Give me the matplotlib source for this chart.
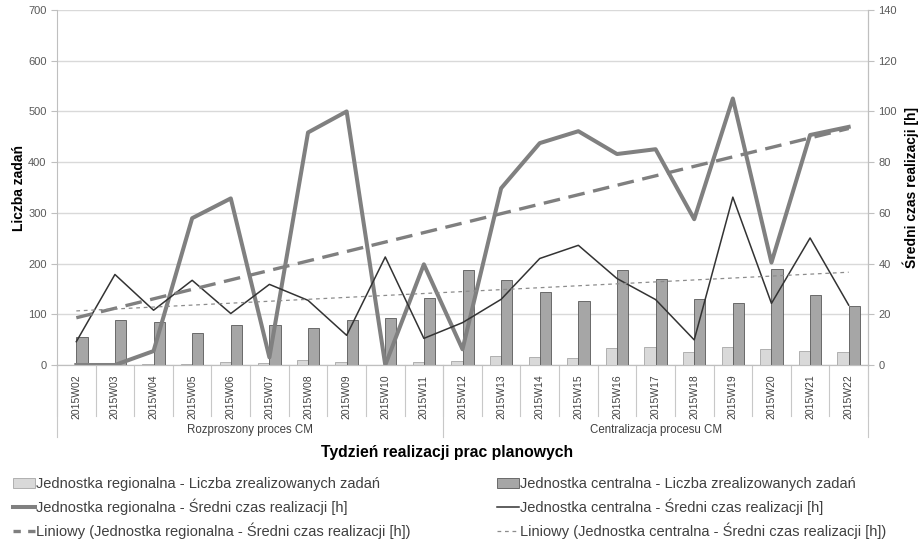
import numpy as np
import matplotlib
matplotlib.use("Agg")
import matplotlib.pyplot as plt
from matplotlib.patches import Patch
from matplotlib.lines import Line2D

plt.rcParams['font.family'] = ['Liberation Sans', 'DejaVu Sans']

# dane
weeks = ["2015W02", "2015W03", "2015W04", "2015W05", "2015W06", "2015W07", "2015W08",
         "2015W09", "2015W10", "2015W11", "2015W12", "2015W13", "2015W14", "2015W15",
         "2015W16", "2015W17", "2015W18", "2015W19", "2015W20", "2015W21", "2015W22"]
groups = ["Rozproszony proces CM", "Centralizacja procesu CM"]
group_sizes = [10, 11]

reg_tasks = [0, 0, 1, 2, 6, 4, 9, 5, 0, 5, 7, 17, 16, 13, 33, 35, 26, 35, 32, 28, 26]
cen_tasks = [55, 88, 84, 63, 78, 78, 73, 88, 93, 133, 187, 168, 143, 126, 187, 170, 130,
             122, 189, 139, 117]
reg_time = [0, 0, 5.5, 57.9, 65.7, 3.0, 91.7, 100, 0, 39.7, 6.2, 69.7, 87.5, 92.2, 83.2,
            85.1, 57.5, 105.1, 40.4, 90.7, 93.9]
cen_time = [9.2, 35.7, 21.6, 33.4, 20.3, 31.8, 25.5, 11.7, 42.6, 10.5, 16.7, 25.9, 42.0,
            47.2, 34.1, 25.8, 9.9, 66.2, 24.3, 50.1, 23.6]

lab_reg_bar = "Jednostka regionalna - Liczba zrealizowanych zadań"
lab_cen_bar = "Jednostka centralna - Liczba zrealizowanych zadań"
lab_reg_line = "Jednostka regionalna - Średni czas realizacji [h]"
lab_cen_line = "Jednostka centralna - Średni czas realizacji [h]"
lab_reg_trend = "Liniowy (Jednostka regionalna - Średni czas realizacji [h])"
lab_cen_trend = "Liniowy (Jednostka centralna - Średni czas realizacji [h])"

x = np.arange(len(weeks))
w = 0.29
txt = '#404040'
axc = '#bfbfbf'

fig = plt.figure(figsize=(9.21, 5.41), dpi=100)
ax = fig.add_axes([57 / 921, 1 - 365 / 541, (868 - 57) / 921, 355 / 541])
ax2 = ax.twinx()

ax.bar(x - w / 2, reg_tasks, w, color='#d9d9d9', edgecolor='#a6a6a6', linewidth=0.6, zorder=3)
ax.bar(x + w / 2, cen_tasks, w, color='#a6a6a6', edgecolor='#595959', linewidth=0.6, zorder=3)

ax2.plot(x, reg_time, color='#808080', lw=2.9)
ax2.plot(x, cen_time, color='#333333', lw=1.1)

# linie trendu (liniowe)
p1 = np.polyfit(x, reg_time, 1)
p2 = np.polyfit(x, cen_time, 1)
ax2.plot(x, np.polyval(p1, x), color='#7f7f7f', lw=2.4, dashes=(5, 2.6))
ax2.plot(x, np.polyval(p2, x), color='#8c8c8c', lw=0.9, dashes=(3, 3))

ax.set_ylim(0, 700)
ax.set_yticks(range(0, 701, 100))
ax2.set_ylim(0, 140)
ax2.set_yticks(range(0, 141, 20))
ax.set_xlim(-0.5, len(weeks) - 0.5)

ax.grid(axis='y', color='#d9d9d9', lw=1, zorder=0)
ax.set_axisbelow(True)
for a in (ax, ax2):
    a.spines['top'].set_visible(False)
    for s in ('left', 'right', 'bottom'):
        a.spines[s].set_color(axc)
    a.tick_params(axis='y', colors=axc, labelcolor='#595959', labelsize=8, length=4)
ax2.spines['left'].set_visible(False)

ax.set_xticks(x)
ax.set_xticklabels(weeks, rotation=90, fontsize=7.5, color=txt)
ax.tick_params(axis='x', length=0, pad=7)

# separatory kategorii
tr = ax.get_xaxis_transform()
for i in range(len(weeks) + 1):
    ax.plot([i - 0.5, i - 0.5], [0, -51 / 355], color='#c8c8c8', lw=0.8,
            transform=tr, clip_on=False)
edges = np.cumsum([0] + group_sizes) - 0.5
for e in edges:
    ax.plot([e, e], [0, -72 / 355], color='#c8c8c8', lw=0.8, transform=tr, clip_on=False)
for g, a, b in zip(groups, edges[:-1], edges[1:]):
    ax.text((a + b) / 2, -65 / 355, g, transform=tr, ha='center', va='center',
            fontsize=8.3, color=txt)

fig.text(19 / 921, 1 - 188 / 541, "Liczba zadań", rotation=90, ha='center', va='center',
         fontsize=10, fontweight='bold', color='black')
fig.text(911 / 921, 1 - 188 / 541, "Średni czas realizacji [h]", rotation=90, ha='center',
         va='center', fontsize=10, fontweight='bold', color='black')
fig.text(447 / 921, 1 - 452 / 541, "Tydzień realizacji prac planowych", ha='center',
         va='center', fontsize=11.3, fontweight='bold', color='black')

h1 = [Patch(facecolor='#d9d9d9', edgecolor='#a6a6a6', lw=0.6),
      Line2D([], [], color='#808080', lw=2.9),
      Line2D([], [], color='#7f7f7f', lw=2.4, dashes=(2.2, 2.2))]
h2 = [Patch(facecolor='#a6a6a6', edgecolor='#595959', lw=0.6),
      Line2D([], [], color='#333333', lw=1.1),
      Line2D([], [], color='#8c8c8c', lw=0.9, dashes=(3, 3))]
kw = dict(frameon=False, fontsize=10.5, handlelength=1.5, handleheight=0.7,
          handletextpad=0.1, labelspacing=0.52, borderpad=0, borderaxespad=0,
          labelcolor=txt)
fig.legend(h1, [lab_reg_bar, lab_reg_line, lab_reg_trend], loc='upper left',
           bbox_to_anchor=(13 / 921, 1 - 477 / 541), **kw)
fig.legend(h2, [lab_cen_bar, lab_cen_line, lab_cen_trend], loc='upper left',
           bbox_to_anchor=(497 / 921, 1 - 477 / 541), **kw)

fig.savefig("out.png", dpi=100)
